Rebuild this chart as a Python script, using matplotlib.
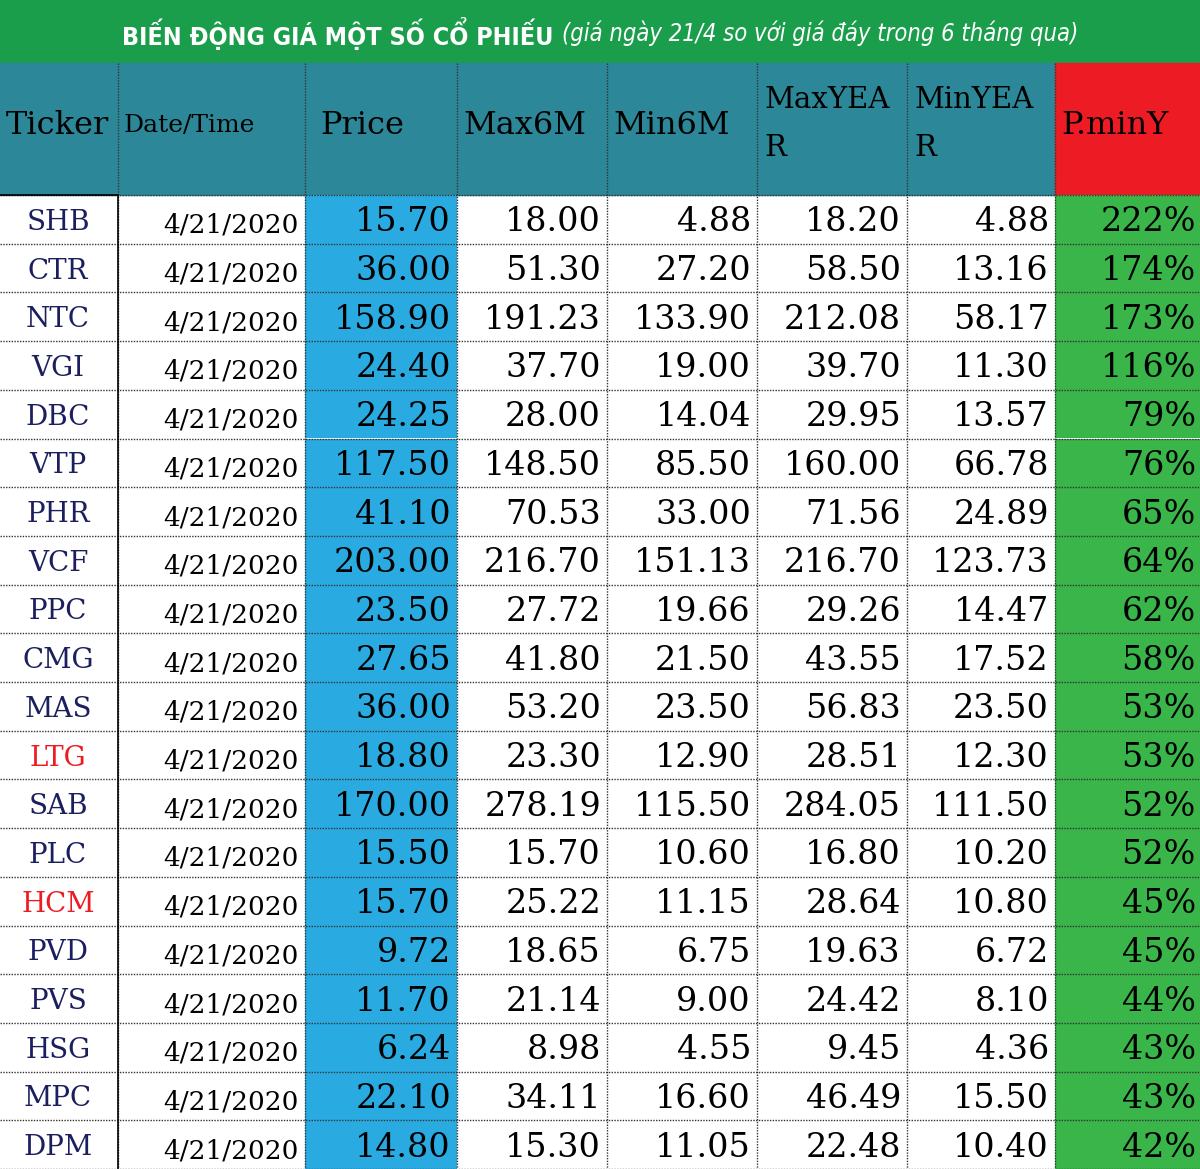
import matplotlib
matplotlib.use("Agg")
import matplotlib.pyplot as plt
from matplotlib.patches import Rectangle

# Dados da tabela
tickers = ["SHB", "CTR", "NTC", "VGI", "DBC", "VTP", "PHR", "VCF", "PPC", "CMG",
           "MAS", "LTG", "SAB", "PLC", "HCM", "PVD", "PVS", "HSG", "MPC", "DPM"]
date = "4/21/2020"
price = [15.70, 36.00, 158.90, 24.40, 24.25, 117.50, 41.10, 203.00, 23.50, 27.65,
         36.00, 18.80, 170.00, 15.50, 15.70, 9.72, 11.70, 6.24, 22.10, 14.80]
max6m = [18.00, 51.30, 191.23, 37.70, 28.00, 148.50, 70.53, 216.70, 27.72, 41.80,
         53.20, 23.30, 278.19, 15.70, 25.22, 18.65, 21.14, 8.98, 34.11, 15.30]
min6m = [4.88, 27.20, 133.90, 19.00, 14.04, 85.50, 33.00, 151.13, 19.66, 21.50,
         23.50, 12.90, 115.50, 10.60, 11.15, 6.75, 9.00, 4.55, 16.60, 11.05]
maxyear = [18.20, 58.50, 212.08, 39.70, 29.95, 160.00, 71.56, 216.70, 29.26, 43.55,
           56.83, 28.51, 284.05, 16.80, 28.64, 19.63, 24.42, 9.45, 46.49, 22.48]
minyear = [4.88, 13.16, 58.17, 11.30, 13.57, 66.78, 24.89, 123.73, 14.47, 17.52,
           23.50, 12.30, 111.50, 10.20, 10.80, 6.72, 8.10, 4.36, 15.50, 10.40]
pminy = [222, 174, 173, 116, 79, 76, 65, 64, 62, 58, 53, 53, 52, 52, 45, 45, 44, 43, 43, 42]
red_tickers = ["LTG", "HCM"]

headers = ["Ticker", "Date/Time", "Price", "Max6M", "Min6M", "MaxYEA\nR", "MinYEA\nR", "P.minY"]
titulo = "BIẾN ĐỘNG GIÁ MỘT SỐ CỔ PHIẾU"
subtitulo = "(giá ngày 21/4 so với giá đáy trong 6 tháng qua)"

# layout (pixels)
W, H = 1200, 1169
cols = [0, 118, 305, 457, 607, 757, 907, 1055, 1200]
title_h = 63
head_b = 195
row_h = (H - head_b) / 20

verde = "#1a9e4b"
teal = "#2c8899"
azul = "#29abe2"
verde2 = "#39b54a"
vermelho = "#ed1c24"
navy = "#1b1f5e"
serif = "DejaVu Serif"

fig = plt.figure(figsize=(12, 11.69), dpi=100)
ax = fig.add_axes([0, 0, 1, 1])
ax.set_xlim(0, W)
ax.set_ylim(H, 0)
ax.axis("off")

# titulo (centralizado em 113..1087)
ax.add_patch(Rectangle((0, 0), W, title_h, color=verde))
t1 = ax.text(0, title_h / 2 + 2, titulo, ha="left", va="center", color="white",
             fontsize=18, fontweight="bold", fontstretch="condensed", family="DejaVu Sans")
t2 = ax.text(0, title_h / 2 + 2, subtitulo, ha="left", va="center", color="white",
             fontsize=17, style="italic", fontstretch="condensed", family="DejaVu Sans")
fig.canvas.draw()
r = fig.canvas.get_renderer()
w1 = t1.get_window_extent(r).width
w2 = t2.get_window_extent(r).width
gap = 8
x0 = 600 - (w1 + gap + w2) / 2
t1.set_x(x0)
t2.set_x(x0 + w1 + gap)

# cabecalho
for i, h in enumerate(headers):
    x0, x1 = cols[i], cols[i + 1]
    ax.add_patch(Rectangle((x0, title_h), x1 - x0, head_b - title_h,
                           color=vermelho if i == 7 else teal))
    fs = 18 if i == 1 else 23
    if "\n" in h:
        ax.text(x0 + 7, 100, h.split("\n")[0], ha="left", va="center", fontsize=21, family=serif)
        ax.text(x0 + 7, 148, h.split("\n")[1], ha="left", va="center", fontsize=21, family=serif)
    else:
        ax.text(x0 + 6 if i != 2 else x0 + 15, 126, h, ha="left", va="center", fontsize=fs, family=serif)

# linhas
for r in range(len(tickers)):
    y0 = head_b + r * row_h
    yc = y0 + row_h / 2 + 3
    ax.add_patch(Rectangle((cols[2], y0), cols[3] - cols[2], row_h, color=azul, lw=0))
    ax.add_patch(Rectangle((cols[7], y0), cols[8] - cols[7], row_h, color=verde2, lw=0))
    t = tickers[r]
    ax.text(58, yc, t, ha="center", va="center", fontsize=20, family=serif,
            color=vermelho if t in red_tickers else navy)
    ax.text(cols[2] - 6, yc + 3, date, ha="right", va="center", fontsize=19, family=serif)
    vals = [price[r], max6m[r], min6m[r], maxyear[r], minyear[r]]
    for j, v in enumerate(vals):
        ax.text(cols[j + 3] - 6, yc, f"{v:.2f}", ha="right", va="center", fontsize=24, family=serif)
    ax.text(W - 4, yc, f"{pminy[r]}%", ha="right", va="center", fontsize=24, family=serif)

# grades
for r in range(21):
    y = head_b + r * row_h
    ax.plot([0, W], [y, y], color="#333333", lw=1, ls=(0, (1, 1)))
for x in cols[1:-1]:
    ax.plot([x, x], [title_h, H], color="#333333", lw=1, ls=(0, (1, 1)))
ax.plot([cols[1], cols[1]], [head_b, H], color="black", lw=1.2)
ax.plot([0, cols[1]], [head_b, head_b], color="black", lw=1.2)

fig.savefig("out.png", dpi=100)
